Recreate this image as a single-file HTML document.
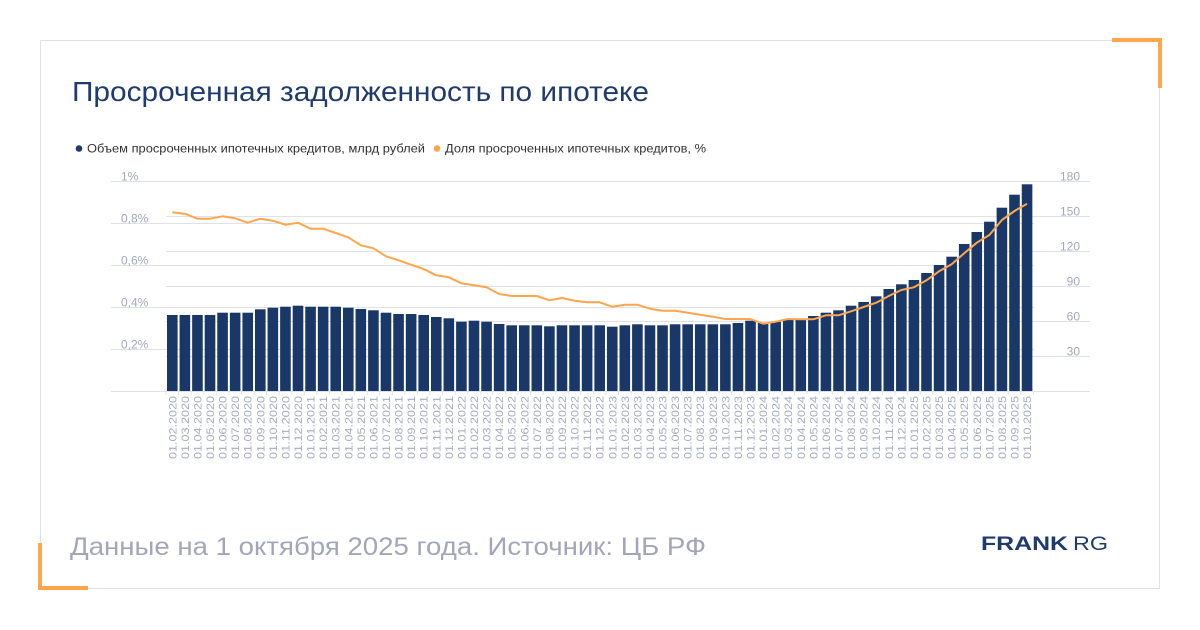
<!DOCTYPE html>
<html><head><meta charset="utf-8"><style>
html,body{margin:0;padding:0;background:#fff;width:1200px;height:630px;overflow:hidden}
svg{display:block}
text{font-family:"Liberation Sans","DejaVu Sans",sans-serif}
</style></head><body>
<svg id="s" width="1200" height="630" viewBox="0 0 1200 630" xmlns="http://www.w3.org/2000/svg">
<rect x="40.5" y="40.5" width="1119" height="548" fill="#fff" stroke="#e2e2e6" stroke-width="1"/>
<path d="M1112 40 H1160 V88" fill="none" stroke="#ffa64d" stroke-width="4"/>
<path d="M40 543 V588 H88" fill="none" stroke="#ffa64d" stroke-width="4"/>
<text x="72" y="101" font-size="28" fill="#1e3a6e" textLength="577" lengthAdjust="spacingAndGlyphs">Просроченная задолженность по ипотеке</text>
<circle cx="79" cy="148.5" r="3.3" fill="#1e3a6e"/>
<text x="87" y="152.5" font-size="12" fill="#333" textLength="338" lengthAdjust="spacingAndGlyphs">Объем просроченных ипотечных кредитов, млрд рублей</text>
<circle cx="437" cy="148.5" r="3.3" fill="#ffa64d"/>
<text x="445" y="152.5" font-size="12" fill="#333" textLength="261" lengthAdjust="spacingAndGlyphs">Доля просроченных ипотечных кредитов, %</text>
<g id="grid"></g>
<g id="bars"></g>
<polyline id="line" fill="none" stroke="#ffa64d" stroke-width="2" stroke-linejoin="round"/>
<g id="ticks"></g>
<text x="70" y="555" font-size="25" fill="#a3a6b8" textLength="636" lengthAdjust="spacingAndGlyphs">Данные на 1 октября 2025 года. Источник: ЦБ РФ</text>
<text x="981" y="550" font-size="19" font-weight="bold" fill="#1e3a6e" textLength="87" lengthAdjust="spacingAndGlyphs">FRANK</text>
<text x="1073" y="550" font-size="19" fill="#1e3a6e" textLength="35" lengthAdjust="spacingAndGlyphs">RG</text>
</svg>
<script>
var NS="http://www.w3.org/2000/svg";
function el(t,a,p,txt){var e=document.createElementNS(NS,t);for(var k in a)e.setAttribute(k,a[k]);if(txt!=null)e.textContent=txt;document.getElementById(p).appendChild(e);return e;}
// left grid
[181,223,265,307,349].forEach(function(y){el("line",{x1:111,x2:1034,y1:y+.5,y2:y+.5,stroke:"#dfe1ef","stroke-width":1},"grid");});
// right grid
[181,216,251,286,321,356].forEach(function(y){el("line",{x1:166,x2:1090,y1:y+.5,y2:y+.5,stroke:"#dfe1ef","stroke-width":1},"grid");});
el("line",{x1:111,x2:1090,y1:391.5,y2:391.5,stroke:"#dfe1ef","stroke-width":1},"grid");
var ll=[["1%",181],["0,8%",223],["0,6%",265],["0,4%",307],["0,2%",349]];
ll.forEach(function(a){el("text",{x:121,y:a[1]-0.5,"font-size":12,fill:"#a4a8bc"},"grid",a[0]);});
var rl=[["180",181],["150",216],["120",251],["90",286],["60",321],["30",356]];
rl.forEach(function(a){el("text",{x:1080,y:a[1]-0.5,"font-size":12,fill:"#a4a8bc","text-anchor":"end"},"grid",a[0]);});
var bt=[315,315,315,315,312.7,312.7,312.7,309.3,307.7,306.7,305.7,306.7,306.7,306.7,307.7,309,310.3,312.7,314,314,315,317,318.3,321.7,320.7,321.7,324,325.3,325.3,325.3,326.3,325.3,325.3,
325.3,325.3,326.7,325.3,324.3,325.3,325.3,324.3,324.3,324.3,324.3,324.3,323,320.7,323,321.7,319.7,318.7,316,312.7,310.3,305.7,302,296.3,289,284.3,280,273,265,256.7,244,232,221.7,207.7,194.7,184.3];
var ly=[212.3,213.7,218.7,218.7,216.3,218.3,222.7,218.7,220.7,224.7,222.7,228.7,228.7,233,237.3,245.3,248.3,256.3,260.3,264.7,269,275.3,277.3,283.3,285.3,287.3,294,296,296,296,300.3,298,300.7,
302.3,302.3,306.7,304.7,304.7,308.7,310.7,310.7,312.7,314.7,316.7,319,319,319,323.7,321.7,319,319.3,319.3,315.3,315.3,311.3,307,302.7,296,290,287.3,280.3,271.3,264.3,253.3,242.7,235,220,211,203.7];
var pts=[];
for(var i=0;i<69;i++){
 var cx=172.3+i*12.57;
 el("rect",{x:(cx-5.3).toFixed(2),y:bt[i],width:10.6,height:(391-bt[i]).toFixed(2),fill:"#1a3867"},"bars");
 pts.push(cx.toFixed(2)+","+ly[i]);
 var m=2+i, yr=2020+Math.floor((m-1)/12), mo=((m-1)%12)+1;
 var lab="01."+(mo<10?"0":"")+mo+"."+yr;
 el("text",{transform:"translate("+(cx+4).toFixed(2)+",396) rotate(-90)","font-size":11,fill:"#a8acc0","text-anchor":"end",textLength:63,lengthAdjust:"spacingAndGlyphs"},"ticks",lab);
 el("line",{x1:(cx-6.28).toFixed(2),x2:(cx-6.28).toFixed(2),y1:391,y2:395,stroke:"#dfe1ef"},"ticks");
}
el("line",{x1:(172.3+68.5*12.57).toFixed(2),x2:(172.3+68.5*12.57).toFixed(2),y1:391,y2:395,stroke:"#dfe1ef"},"ticks");
document.getElementById("line").setAttribute("points",pts.join(" "));
</script>
</body></html>
